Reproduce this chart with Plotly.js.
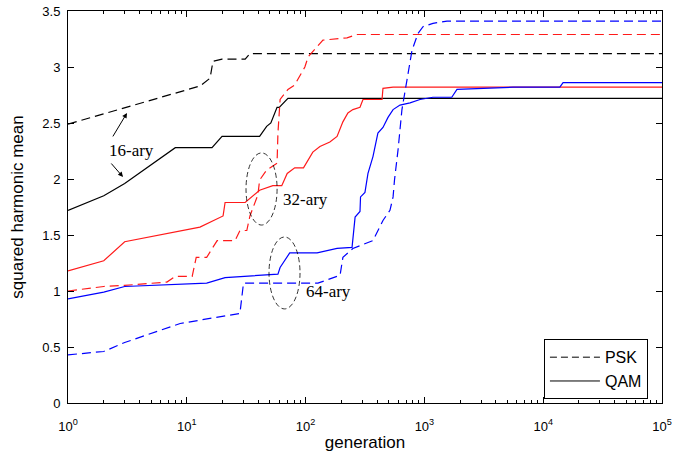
<!DOCTYPE html>
<html><head><meta charset="utf-8">
<script src="https://cdn.plot.ly/plotly-3.0.1.min.js"></script>
<style>html,body{margin:0;padding:0;background:#fff}#chart{width:697px;height:456px}</style>
</head><body><div id="chart"></div>
<script>
// ---- data ----
const psk16X = [1, 12.9, 15.7, 16.6, 19.8, 31, 34, 1e5];
const psk16Y = [2.49, 2.83, 2.90, 3.05, 3.07, 3.07, 3.12, 3.12];
const qam16X = [1, 2, 3, 8, 16.3, 19.8, 41, 47, 51, 57.5, 60, 71, 1e5];
const qam16Y = [1.72, 1.85, 1.96, 2.28, 2.28, 2.38, 2.38, 2.47, 2.50, 2.64, 2.64, 2.72, 2.72];
const qam32X = [1, 2, 3, 5.9, 12.9, 20.2, 21, 31, 41, 53, 63, 70, 81, 96, 115, 132, 160, 184, 206, 227, 250, 287, 304, 347, 440, 448, 545, 1e5];
const qam32Y = [1.18, 1.27, 1.44, 1.50, 1.57, 1.67, 1.79, 1.79, 1.90, 1.94, 1.94, 2.05, 2.10, 2.10, 2.24, 2.29, 2.33, 2.38, 2.51, 2.59, 2.62, 2.64, 2.71, 2.71, 2.71, 2.81, 2.82, 2.82];
const psk32X = [1, 2, 3, 6.8, 8, 11.1, 12, 14.7, 18, 25.5, 28, 32, 34, 39.7, 41, 47, 57.5, 58.5, 61, 71, 81, 98.6, 105, 140, 223, 271, 1e5];
const psk32Y = [1.00, 1.04, 1.05, 1.08, 1.13, 1.13, 1.30, 1.30, 1.45, 1.45, 1.54, 1.54, 1.67, 1.86, 1.99, 2.08, 2.14, 2.41, 2.71, 2.80, 2.84, 3.00, 3.09, 3.24, 3.26, 3.29, 3.29];
const qam64X = [1, 2, 3, 14.7, 21, 32, 58.5, 61, 73.5, 125, 184, 246, 261, 287, 290, 316, 335, 369, 406, 448, 494, 545, 623, 757, 918, 1180, 1700, 1880, 3770, 5570, 13800, 14700, 1e5];
const qam64Y = [0.93, 0.99, 1.04, 1.07, 1.12, 1.13, 1.15, 1.21, 1.34, 1.34, 1.38, 1.39, 1.66, 1.71, 1.84, 1.88, 2.05, 2.20, 2.41, 2.46, 2.55, 2.62, 2.66, 2.68, 2.71, 2.73, 2.73, 2.80, 2.81, 2.82, 2.82, 2.86, 2.86];
const psk64X = [1, 2, 3, 8.8, 28, 30, 127, 195, 206, 250, 369, 448, 513, 545, 560, 600, 647, 715, 787, 883, 973, 1180, 1550, 1e5];
const psk64Y = [0.43, 0.46, 0.54, 0.71, 0.80, 1.07, 1.07, 1.14, 1.30, 1.38, 1.45, 1.63, 1.72, 1.84, 1.99, 2.26, 2.62, 2.91, 3.15, 3.30, 3.36, 3.39, 3.41, 3.41];

const xTickVals = [1, 10, 100, 1000, 10000, 100000];
const xTickText = ['10<sup>0</sup>', '10<sup>1</sup>', '10<sup>2</sup>', '10<sup>3</sup>', '10<sup>4</sup>', '10<sup>5</sup>'];
const yTickVals = [0, 0.5, 1, 1.5, 2, 2.5, 3, 3.5];
const yTickText = ['0', '0.5', '1', '1.5', '2', '2.5', '3', '3.5'];
const legendNames = ['PSK', 'QAM'];

// minor ticks 2..9 per decade
const minorVals = [];
for (let d = 1; d < 1e5; d *= 10) for (let k = 2; k <= 9; k++) minorVals.push(k * d);

const DASH = '9px,5px';
const W = 1.2;
function tr(x, y, color, dash) {
  return {x: x, y: y, type: 'scatter', mode: 'lines', showlegend: false, hoverinfo: 'skip',
    line: {color: color, width: W, dash: dash}};
}
const data = [
  tr(psk16X, psk16Y, '#000', DASH),
  tr(qam16X, qam16Y, '#000', 'solid'),
  tr(psk32X, psk32Y, '#ff1a1a', DASH),
  tr(qam32X, qam32Y, '#ff1a1a', 'solid'),
  tr(psk64X, psk64Y, '#0000ff', DASH),
  tr(qam64X, qam64Y, '#0000ff', 'solid'),
  {x: [null], y: [null], type: 'scatter', mode: 'lines', name: legendNames[0], line: {color: '#000', width: 1, dash: '7px,4px'}},
  {x: [null], y: [null], type: 'scatter', mode: 'lines', name: legendNames[1], line: {color: '#000', width: 1}}
];

const tickFont = {family: 'Liberation Sans, Arial, sans-serif', size: 13, color: '#000'};
const serif = {family: 'Liberation Serif, Times New Roman, serif', size: 17, color: '#000'};

const layout = {
  width: 697, height: 456,
  margin: {l: 68, r: 35, t: 11, b: 53},
  paper_bgcolor: '#fff', plot_bgcolor: '#fff',
  showlegend: true,
  legend: {x: 0.976, y: 0.01, xanchor: 'right', yanchor: 'bottom', bgcolor: '#fff',
    bordercolor: '#000', borderwidth: 1.2, font: {family: 'Liberation Sans, Arial, sans-serif', size: 16, color: '#000'},
    tracegroupgap: 0, itemwidth: 50},
  xaxis: {type: 'log', range: [0, 5], tickvals: xTickVals, ticktext: xTickText, ticks: 'inside', ticklen: 6,
    tickcolor: '#000', linecolor: '#000', linewidth: 1, mirror: 'ticks', showgrid: false, zeroline: false,
    tickfont: tickFont, ticklabelstandoff: 11,
    minor: {tickvals: minorVals, ticks: 'inside', ticklen: 3, tickcolor: '#000', showgrid: false},
    title: {text: 'generation', font: {family: 'Liberation Sans, Arial, sans-serif', size: 17, color: '#000'}, standoff: 3}},
  yaxis: {range: [0, 3.5], tickvals: yTickVals, ticktext: yTickText, ticks: 'inside', ticklen: 6,
    tickcolor: '#000', linecolor: '#000', linewidth: 1, mirror: 'ticks', showgrid: false, zeroline: false,
    tickfont: tickFont, ticklabelstandoff: 4,
    title: {text: 'squared harmonic mean', font: {family: 'Liberation Sans, Arial, sans-serif', size: 17, color: '#000'}, standoff: 14}},
  shapes: [
    {type: 'circle', xref: 'paper', yref: 'paper', x0: 0.2997, x1: 0.352, y0: 0.454, y1: 0.638,
      line: {color: '#000', width: 0.8, dash: '5px,3px'}},
    {type: 'circle', xref: 'paper', yref: 'paper', x0: 0.3384, x1: 0.3906, y0: 0.240, y1: 0.4235,
      line: {color: '#000', width: 0.8, dash: '5px,3px'}}
  ],
  annotations: [
    {xref: 'paper', yref: 'paper', x: 0.0657, y: 0.645, text: '16-ary', showarrow: false, font: serif},
    {xref: 'paper', yref: 'paper', x: 0.0993, y: 0.740, ax: -15, ay: 25, text: '', showarrow: true,
      arrowhead: 2, arrowsize: 1, arrowwidth: 1, arrowcolor: '#000'},
    {xref: 'paper', yref: 'paper', x: 0.0926, y: 0.5765, ax: -13, ay: -15, text: '', showarrow: true,
      arrowhead: 2, arrowsize: 1, arrowwidth: 1, arrowcolor: '#000'},
    {xref: 'paper', yref: 'paper', x: 0.358, y: 0.518, xanchor: 'left', text: '32-ary', showarrow: false, font: serif},
    {xref: 'paper', yref: 'paper', x: 0.397, y: 0.255, xanchor: 'left', text: '64-ary', showarrow: false, font: serif}
  ]
};

Plotly.newPlot('chart', data, layout, {displayModeBar: false, staticPlot: true});
</script>
</body></html>
